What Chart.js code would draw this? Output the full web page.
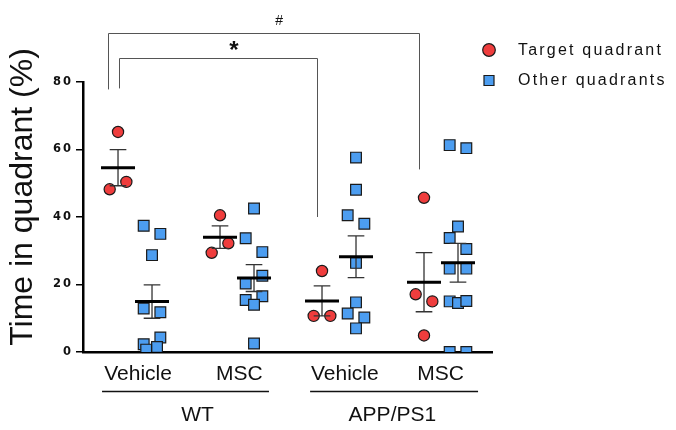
<!DOCTYPE html>
<html>
<head>
<meta charset="utf-8">
<script src="https://cdn.jsdelivr.net/npm/chart.js@4.4.1/dist/chart.umd.min.js"></script>
<style>
  html, body { margin: 0; padding: 0; background: #fff; }
  #wrap { width: 676px; height: 430px; }
</style>
</head>
<body>
<div id="wrap"><canvas id="quadChart"></canvas></div>
<script>
const groupNames = ['Vehicle', 'MSC', 'Vehicle', 'MSC'];
const genotypes = ['WT', 'APP/PS1'];
const yTicks = [0, 20, 40, 60, 80];

const targetValues = [
  [65.2, 50.4, 48.2],
  [40.5, 32.2, 29.4],
  [24.0, 10.7, 10.7],
  [45.7, 17.1, 15.0, 4.9]
];
const otherValues = [
  [37.4, 35.0, 28.7, 12.9, 11.8, 4.3, 2.3, 1.5, 0.7],
  [42.5, 33.7, 29.6, 22.6, 20.3, 16.5, 15.4, 14.0, 2.5],
  [57.6, 48.1, 40.5, 38.0, 26.4, 14.7, 11.4, 10.2, 7.0],
  [61.3, 60.4, 37.2, 33.8, 30.5, 24.7, 24.7, 15.0, 14.5, 15.1, 0, 0]
];

// scatter columns (jitter) for each point, kept apart from the values
const targetCols = [[0, 1, -1], [0, 1, -1], [0, -1, 1], [0, -1, 1, 0]];
const otherCols = [
  [-1, 1, 0, -1, 1, 1, -1, 0.6, -0.7],
  [0, -1, 1, 1, -1, 1, -1, 0, 0],
  [0, 0, -1, 1, 0, 0, -1, 1, 0],
  [-1, 1, 0, -1, 1, -1, 1, -1, 0, 1, -1, 1]
];

// x slots on the linear axis
const targetX = [0, 3, 6, 9];
const otherX = [1, 4, 7, 10];
const colStep = 0.245;

// comparison brackets: [xLeft, xRight, yTop, yLeftEnd, yRightEnd]
const hashBracket = [-0.3, 8.85, 94.6, 77.8, 54.1];
const starBracket = [0.03, 5.85, 87.2, 78.1, 40];

function mean(a) { return a.reduce((s, v) => s + v, 0) / a.length; }
function sem(a) {
  const m = mean(a);
  const sd = Math.sqrt(a.reduce((s, v) => s + (v - m) * (v - m), 0) / (a.length - 1));
  return sd / Math.sqrt(a.length);
}

function scatterPoints(values, xs, cols) {
  const pts = [];
  values.forEach((g, i) => g.forEach((v, j) => pts.push({ x: xs[i] + cols[i][j] * colStep, y: v })));
  return pts;
}

function meanLines(values, xs) {
  const pts = [];
  values.forEach((g, i) => {
    const m = mean(g);
    pts.push({ x: xs[i] - 0.5, y: m }, { x: xs[i] + 0.5, y: m }, { x: xs[i], y: null });
  });
  return pts;
}

function errorLines(values, xs) {
  const pts = [];
  values.forEach((g, i) => {
    const m = mean(g), s = sem(g), x = xs[i];
    pts.push({ x: x, y: m - s }, { x: x, y: m + s }, { x: x, y: null });
    pts.push({ x: x - 0.245, y: m + s }, { x: x + 0.245, y: m + s }, { x: x, y: null });
    pts.push({ x: x - 0.245, y: m - s }, { x: x + 0.245, y: m - s }, { x: x, y: null });
  });
  return pts;
}

const allValues = targetValues.concat(otherValues);
const allX = targetX.concat(otherX);

const decor = {
  id: 'decor',
  beforeDraw(chart) {
    chart.ctx.letterSpacing = '2px';
  },
  afterDraw(chart) {
    const ctx = chart.ctx;
    const xs = chart.scales.x, ys = chart.scales.y;
    const bottom = chart.chartArea.bottom;
    ctx.save();
    ctx.letterSpacing = '0px';
    ctx.fillStyle = '#111';
    ctx.strokeStyle = '#111';

    // group labels under the axis
    ctx.font = '21px "Liberation Sans", Arial, sans-serif';
    ctx.textAlign = 'center';
    ctx.textBaseline = 'middle';
    const subX = [0.59, 3.57, 6.67, 9.49];
    groupNames.forEach((t, i) => ctx.fillText(t, xs.getPixelForValue(subX[i]), bottom + 22));
    const genoX = [2.34, 8.07];
    genotypes.forEach((t, i) => ctx.fillText(t, xs.getPixelForValue(genoX[i]), bottom + 63));
    ctx.lineWidth = 1.3;
    [[-0.47, 4.44], [5.65, 10.59]].forEach(r => {
      ctx.beginPath();
      ctx.moveTo(xs.getPixelForValue(r[0]), bottom + 39.5);
      ctx.lineTo(xs.getPixelForValue(r[1]), bottom + 39.5);
      ctx.stroke();
    });

    // brackets
    ctx.strokeStyle = '#555';
    ctx.lineWidth = 1;
    [hashBracket, starBracket].forEach(b => {
      const xl = Math.round(xs.getPixelForValue(b[0])) + 0.5;
      const xr = Math.round(xs.getPixelForValue(b[1])) + 0.5;
      const yt = Math.round(ys.getPixelForValue(b[2])) + 0.5;
      ctx.beginPath();
      ctx.moveTo(xl, ys.getPixelForValue(b[3]));
      ctx.lineTo(xl, yt);
      ctx.lineTo(xr, yt);
      ctx.lineTo(xr, ys.getPixelForValue(b[4]));
      ctx.stroke();
    });
    ctx.font = '14px "Liberation Sans", Arial, sans-serif';
    ctx.fillText('#', xs.getPixelForValue(4.74), ys.getPixelForValue(hashBracket[2]) - 12);
    ctx.font = 'bold 24px "Liberation Sans", Arial, sans-serif';
    ctx.fillText('*', xs.getPixelForValue(3.41), ys.getPixelForValue(starBracket[2]) - 6);

    // y axis title
    ctx.save();
    ctx.translate(32, 197);
    ctx.rotate(-Math.PI / 2);
    ctx.font = '32px "Liberation Sans", Arial, sans-serif';
    ctx.textBaseline = 'alphabetic';
    ctx.fillText('Time in quadrant (%)', 0, 0);
    ctx.restore();

    // legend
    ctx.strokeStyle = '#1a1a1a';
    ctx.lineWidth = 1.2;
    ctx.fillStyle = '#ef3d3d';
    ctx.beginPath();
    ctx.arc(489, 50, 6.3, 0, Math.PI * 2);
    ctx.fill();
    ctx.stroke();
    ctx.fillStyle = '#4c9df0';
    ctx.beginPath();
    ctx.rect(484, 75.5, 10, 10);
    ctx.fill();
    ctx.stroke();
    ctx.fillStyle = '#111';
    ctx.font = '16px "Liberation Sans", Arial, sans-serif';
    ctx.textAlign = 'left';
    ctx.letterSpacing = '2.2px';
    ctx.fillText('Target quadrant', 518, 51);
    ctx.fillText('Other quadrants', 518, 81);
    ctx.restore();
  }
};

const quadChart = new Chart(document.getElementById('quadChart'), {
  type: 'scatter',
  data: {
    datasets: [
      {
        label: 'Target quadrant',
        data: scatterPoints(targetValues, targetX, targetCols),
        pointStyle: 'circle',
        pointRadius: 5.6,
        backgroundColor: '#ef3d3d',
        borderColor: '#1a1a1a',
        borderWidth: 1.2,
        order: 2
      },
      {
        label: 'Other quadrants',
        data: scatterPoints(otherValues, otherX, otherCols),
        pointStyle: 'rect',
        pointRadius: 7.6,
        backgroundColor: '#4c9df0',
        borderColor: '#1a1a1a',
        borderWidth: 1.2,
        order: 2
      },
      {
        label: 'mean',
        data: meanLines(allValues, allX),
        showLine: true,
        spanGaps: false,
        pointRadius: 0,
        borderColor: '#000',
        borderWidth: 3,
        order: 1
      },
      {
        label: 'sem',
        data: errorLines(allValues, allX),
        showLine: true,
        spanGaps: false,
        pointRadius: 0,
        borderColor: '#333',
        borderWidth: 1.3,
        order: 1
      }
    ]
  },
  options: {
    responsive: true,
    maintainAspectRatio: false,
    animation: false,
    layout: { padding: { left: 0, top: 82, right: 184, bottom: 78 } },
    plugins: {
      legend: { display: false },
      tooltip: { enabled: false }
    },
    scales: {
      x: {
        type: 'linear',
        min: -1.03,
        max: 11,
        grid: { display: false },
        ticks: { display: false },
        border: { display: true, color: '#000', width: 2.5 },
        afterFit: s => { s.height = 0; }
      },
      y: {
        min: 0,
        max: 80,
        afterBuildTicks: s => { s.ticks = yTicks.map(v => ({ value: v })); },
        grid: { display: true, drawOnChartArea: false, tickLength: 7, color: '#000', lineWidth: 1.5 },
        border: { display: true, color: '#000', width: 2.5 },
        ticks: {
          padding: 3,
          color: '#111',
          font: { family: 'DejaVu Sans', weight: 'bold', size: 11.5 }
        },
        afterFit: s => { s.width = 83; }
      }
    }
  },
  plugins: [decor]
});
</script>
</body>
</html>
